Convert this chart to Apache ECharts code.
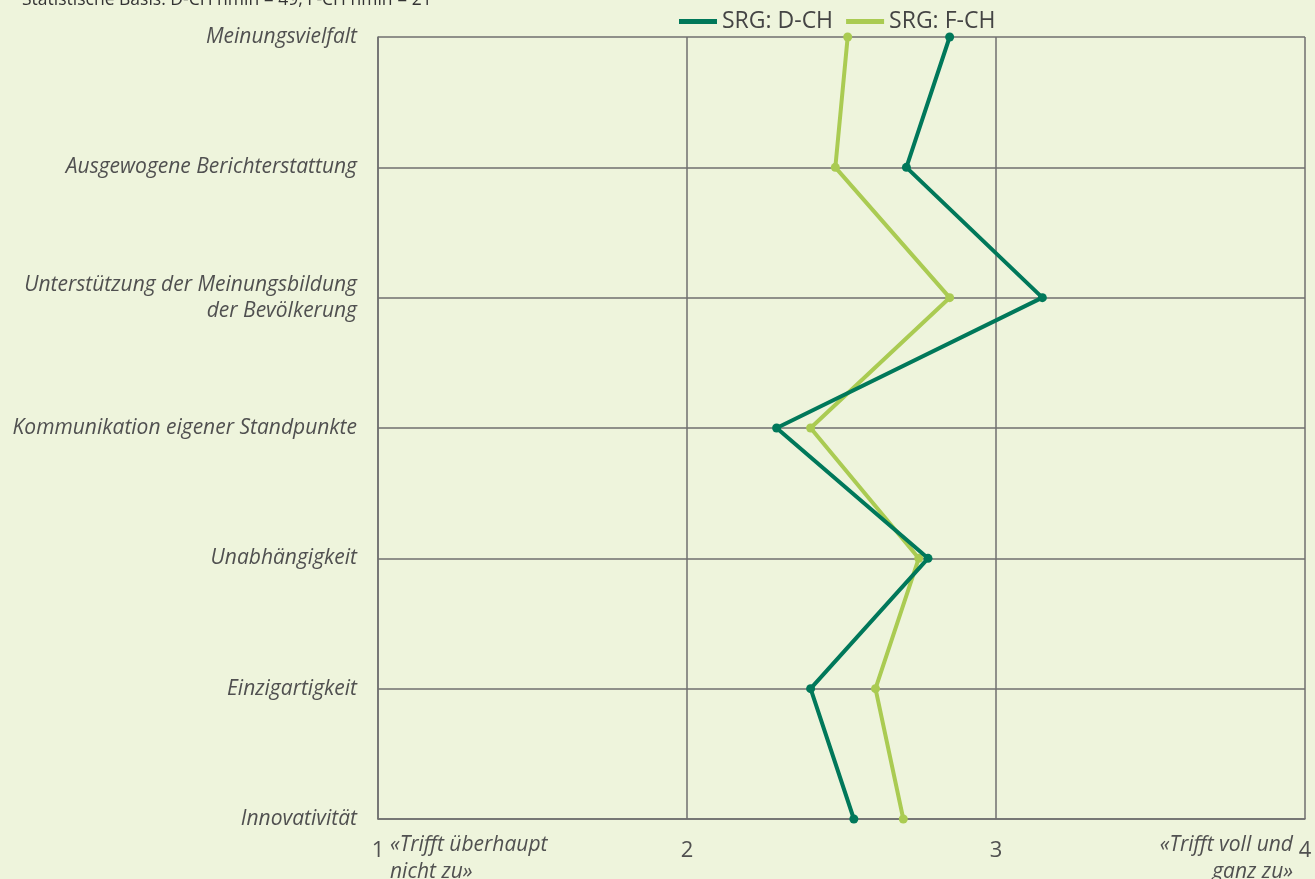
<!DOCTYPE html>
<html><head><meta charset="utf-8">
<script src="https://cdn.jsdelivr.net/npm/echarts@6/dist/echarts.min.js"></script>
<style>html,body{margin:0;padding:0;background:#eef4dc;}#c{width:1315px;height:879px;}</style>
</head><body><div id="c"></div>
<script>
const categories = ["Meinungsvielfalt","Ausgewogene Berichterstattung","Unterstützung der Meinungsbildung\nder Bevölkerung","Kommunikation eigener Standpunkte","Unabhängigkeit","Einzigartigkeit","Innovativität"];
const dch = [2.85, 2.71, 3.15, 2.29, 2.78, 2.40, 2.54];
const fch = [2.52, 2.48, 2.85, 2.40, 2.75, 2.61, 2.70];
const xTicks = [1, 2, 3, 4];
const seriesNames = ["SRG: D-CH", "SRG: F-CH"];
const note = "Statistische Basis: D-CH nmin = 49, F-CH nmin = 21";
const lowLabel = "«Trifft überhaupt\nnicht zu»";
const highLabel = "«Trifft voll und\nganz zu»";

const chart = echarts.init(document.getElementById('c'));
const font = "'Open Sans', 'Noto Sans', sans-serif";
const gridCol = '#6f6f6f';
const txt = '#505050';
chart.setOption({
  backgroundColor: '#eef4dc',
  textStyle: {fontFamily: font},
  animation: false,
  legend: {
    left: 674, top: 5, itemWidth: 38, itemHeight: 5, itemGap: 13,
    textStyle: {fontSize: 23, color: '#444', fontFamily: font},
    icon: 'rect',
    data: seriesNames
  },
  grid: {left: 378, right: 10, top: 37, bottom: 60},
  xAxis: {
    type: 'value', min: 1, max: 4, interval: 1, position: 'bottom',
    axisLine: {show: true, lineStyle: {color: gridCol, width: 1.5}},
    axisTick: {show: false},
    splitLine: {show: true, lineStyle: {color: gridCol, width: 1.5}},
    axisLabel: {fontSize: 22, color: txt, margin: 21, fontFamily: font,
      formatter: v => xTicks.includes(v) ? String(v) : ''}
  },
  yAxis: {
    type: 'category', data: categories, inverse: true, boundaryGap: false,
    axisLine: {show: true, lineStyle: {color: gridCol, width: 1.5}},
    axisTick: {show: false},
    splitLine: {show: true, lineStyle: {color: gridCol, width: 1.5}},
    axisLabel: {fontSize: 21, color: txt, fontStyle: 'italic', margin: 21, align: 'right', lineHeight: 26, fontFamily: font}
  },
  graphic: [
    {type: 'text', left: 22, top: -9, style: {text: note, fontSize: 17.5, fill: '#333', fontFamily: font}},
    {type: 'text', x: 390, y: 832, style: {text: lowLabel, fontSize: 21, fill: txt, fontStyle: 'italic', lineHeight: 27, fontFamily: font}},
    {type: 'text', x: 1293, y: 832, style: {text: highLabel, fontSize: 21, fill: txt, fontStyle: 'italic', lineHeight: 27, align: 'right', fontFamily: font}, z: 10}
  ],
  series: [
    {name: seriesNames[0], type: 'line', data: dch.map((v, i) => [v, categories[i]]),
     color: '#00785a', lineStyle: {width: 4}, symbol: 'circle', symbolSize: 9, z: 3},
    {name: seriesNames[1], type: 'line', data: fch.map((v, i) => [v, categories[i]]),
     color: '#aacb52', lineStyle: {width: 4}, symbol: 'circle', symbolSize: 9, z: 2}
  ]
});
</script></body></html>
